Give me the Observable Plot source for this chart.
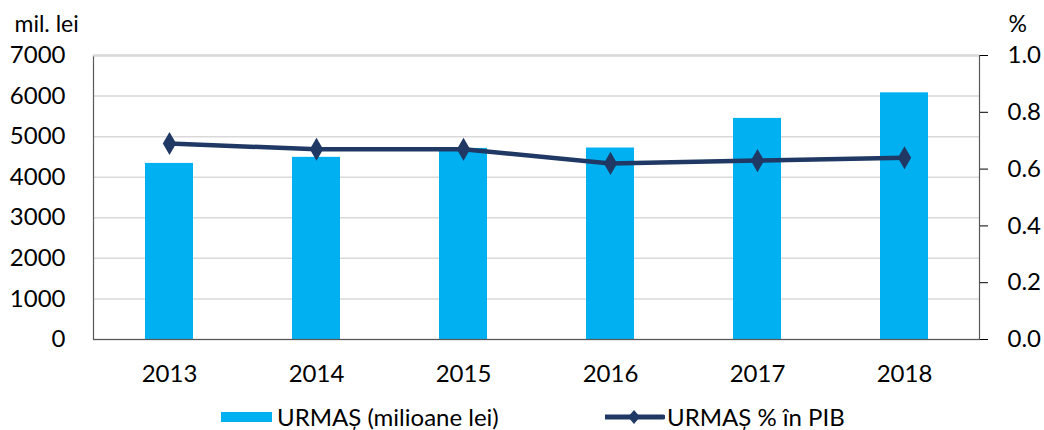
<!DOCTYPE html>
<html>
<head>
<meta charset="utf-8">
<script src="https://cdn.jsdelivr.net/npm/d3@7"></script>
<script src="https://cdn.jsdelivr.net/npm/@observablehq/plot@0.6"></script>
<style>
  body { margin: 0; background: #fff; font-family: Lato, "Open Sans", sans-serif; }
  #legend { position: relative; height: 35px; width: 1044px; font-size: 24px; color: #000; }
  .item { position: absolute; top: 4px; height: 35px; display: flex; align-items: center; }
</style>
</head>
<body>
<div id="chart"></div>
<div id="legend">
  <div class="item" style="left:221px;"><span style="display:inline-block;width:51px;height:10px;background:#00B0F0;margin-right:5px;"></span><span>URMAȘ (milioane lei)</span></div>
  <div class="item" style="left:605px;"><svg width="60" height="18" style="margin-right:2px;"><line x1="0" y1="9" x2="58" y2="9" stroke="#203864" stroke-width="5" stroke-linecap="round"/><path d="M29,2 L35,9 L29,16 L23,9 Z" fill="#203864"/></svg><span>URMAȘ % în PIB</span></div>
</div>
<script>
const years = ["2013", "2014", "2015", "2016", "2017", "2018"];
const valuesMil = [4340, 4490, 4710, 4720, 5450, 6080];
const valuesPct = [0.69, 0.67, 0.67, 0.62, 0.63, 0.64];
const leftTicks = [0, 1000, 2000, 3000, 4000, 5000, 6000, 7000];
const rightTicks = [0, 0.2, 0.4, 0.6, 0.8, 1.0];
const leftMax = 7000;
const rightMax = 1.0;

const data = years.map((y, i) => ({year: y, mil: valuesMil[i], pct: valuesPct[i]}));
const k = leftMax / rightMax;

const chart = Plot.plot({
  width: 1044,
  height: 395,
  marginLeft: 93,
  marginRight: 65,
  marginTop: 55,
  marginBottom: 56,
  style: {fontFamily: "Lato, 'Open Sans', sans-serif", fontSize: "24px", color: "#000", background: "#fff"},
  x: {type: "band", domain: years, paddingInner: 0.676, paddingOuter: 0.338, label: null},
  y: {domain: [0, leftMax], label: null},
  marks: [
    Plot.ruleY(leftTicks, {stroke: "#d9d9d9", strokeWidth: 1.5}),
    Plot.barY(data, {x: "year", y: "mil", fill: "#00B0F0"}),
    Plot.frame({stroke: "#595959", strokeWidth: 1.2}),
    Plot.ruleY([leftMax], {stroke: "#d9d9d9", strokeWidth: 2}),
    Plot.line(data, {x: "year", y: d => d.pct * k, stroke: "#203864", strokeWidth: 4.5}),
    Plot.dot(data, {x: "year", y: d => d.pct * k, symbol: "diamond", r: 7, fill: "#203864"}),
    Plot.axisY(leftTicks, {anchor: "left", tickSize: 0, tickPadding: 28, tickFormat: d => String(d), fill: "#000", label: null}),
    Plot.axisY(rightTicks.map(v => v * k), {anchor: "right", tickSize: 8, tickPadding: 20, stroke: "#000", fill: "#000", tickFormat: d => (d / k).toFixed(1), label: null}),
    Plot.axisX({anchor: "bottom", tickSize: 0, tickPadding: 25, fill: "#000", label: null}),
    Plot.text(["mil. lei"], {frameAnchor: "top-left", dx: -79, dy: -40, textAnchor: "start", fill: "#000", fontSize: 23}),
    Plot.text(["%"], {frameAnchor: "top-right", dx: 29, dy: -40, textAnchor: "start", fill: "#000", fontSize: 23})
  ]
});
document.getElementById("chart").appendChild(chart);
</script>
</body>
</html>
